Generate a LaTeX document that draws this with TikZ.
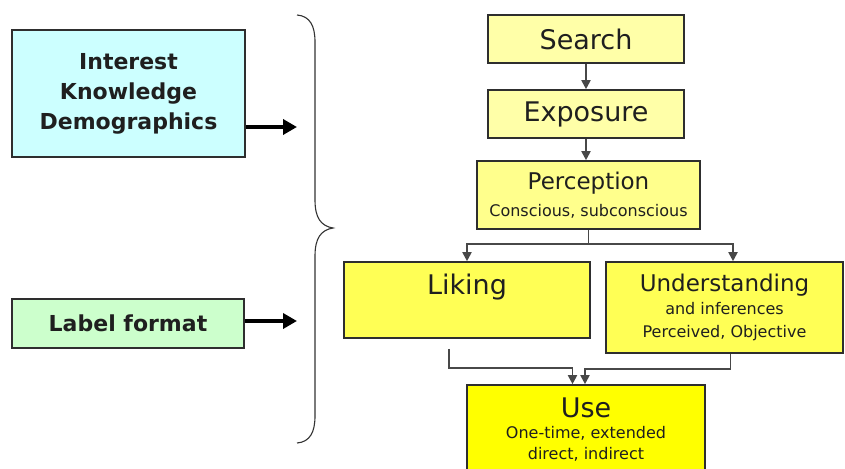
\documentclass[tikz,border=0pt]{standalone}
\usepackage{fontspec}
\setmainfont{DejaVu Sans}
\usepackage{xcolor}
\usepackage{tikz}
\usetikzlibrary{arrows.meta, positioning, calc}

\definecolor{paleblue}{HTML}{CCFFFF}
\definecolor{palegreen}{HTML}{CCFFCC}
\definecolor{yellowA}{HTML}{FFFFA8}
\definecolor{yellowB}{HTML}{FFFF8C}
\definecolor{yellowC}{HTML}{FFFF55}
\definecolor{yellowD}{HTML}{FFFF00}
\definecolor{linegray}{HTML}{2E2E2E}
\definecolor{flowgray}{HTML}{484848}

\begin{document}
\begin{tikzpicture}[x=1pt, y=-1pt,
        box/.style={draw=linegray, line width=1.6pt, rectangle, align=center, inner sep=0pt, text=black!88},
        sidebox/.style={box, font=\bfseries\fontsize{22}{30}\selectfont},
        title/.style={font=\fontsize{27}{32}\selectfont},
        flow/.style={-{Triangle[length=9pt, width=9pt]}, draw=flowgray, line width=1.8pt},
        fatarrow/.style={-{Triangle[length=14pt, width=15pt]}, line width=3.8pt}
    ]
        \clip (0,0) rectangle (845,468);
        \fill[white] (0,0) rectangle (845,468);

        % Factors on the left
        \node[sidebox, fill=paleblue, minimum width=233pt, minimum height=127pt] (interest) at (128.5, 93.5) {Interest\\Knowledge\\Demographics};
        \node[sidebox, fill=palegreen, minimum width=232pt, minimum height=49pt] (labelfmt) at (128, 323.5) {Label format};

        \coordinate (in1) at (297, 127);
        \coordinate (in2) at (297, 321);
        \draw[fatarrow] (interest.east |- in1) -- (in1);
        \draw[fatarrow] (labelfmt.east |- in2) -- (in2);

        % Brace
        \draw[line width=1.1pt, black!80] (297,15) .. controls (310,16) and (315,26) .. (315,42) -- (315,200)
            .. controls (315,218) and (321,226) .. (333,228)
            .. controls (321,230) and (315,238) .. (315,256) -- (315,416)
            .. controls (315,432) and (310,442) .. (297,443);

        % Processing chain
        \node[box, title, fill=yellowA, minimum width=196pt, minimum height=48pt] (search) at (586, 39) {Search};
        \node[box, title, fill=yellowA, minimum width=196pt, minimum height=48pt] (exposure) at (586, 114) {Exposure};
        \node[box, fill=yellowB, minimum width=223pt, minimum height=68pt, font=\fontsize{16}{27}\selectfont] (perception) at (588.5, 195) {{\fontsize{23}{23}\selectfont Perception}\\Conscious, subconscious};

        \node[box, title, fill=yellowC, minimum width=246pt, minimum height=76pt, text height=20pt, text depth=32pt] (liking) at (467, 300) {Liking};
        \node[box, fill=yellowC, minimum width=237pt, minimum height=91pt, font=\fontsize{16}{23}\selectfont] (understanding) at (724.5, 307.5) {{\fontsize{23}{23}\selectfont Understanding}\\and inferences\\Perceived, Objective};

        \node[box, fill=yellowD, minimum width=238pt, minimum height=90pt, font=\fontsize{16}{21}\selectfont] (use) at (586, 430) {{\fontsize{27}{30}\selectfont Use}\\One-time, extended\\direct, indirect};

        \draw[flow] (search) -- (exposure);
        \draw[flow] (exposure) -- ($(perception.north)+(-2.5,0)$);
        \draw[flow] (perception.south) -- ++(0,14) -| (liking.north);
        \draw[flow] (perception.south) -- ++(0,14) -| ($(understanding.north)+(8.5,0)$);
        \draw[flow] ($(liking.south)+(-18,10)$) -- ++(0,19) -| ($(use.north)+(-13.5,0)$);
        \draw[flow] ($(understanding.south)+(6,0)$) -- ++(0,15) -| ($(use.north)+(-1,0)$);
    \end{tikzpicture}
\end{document}
